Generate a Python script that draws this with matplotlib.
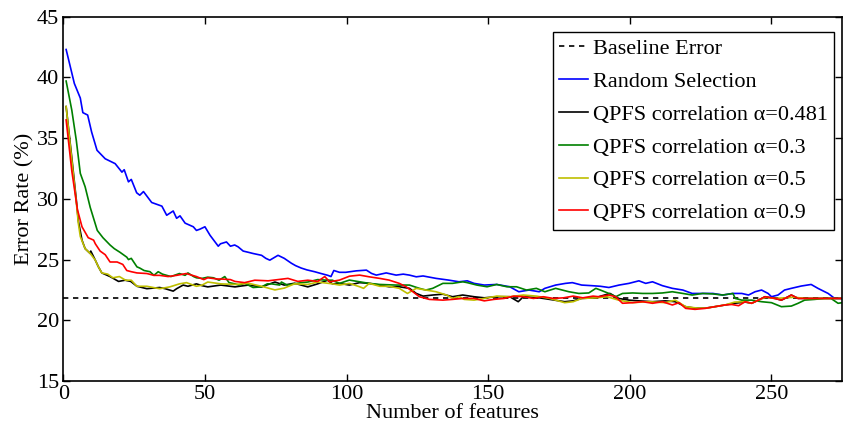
import matplotlib
matplotlib.use("Agg")
import matplotlib.pyplot as plt

plt.rcParams['font.family'] = ['Liberation Serif', 'DejaVu Serif']
plt.rcParams['font.size'] = 16
plt.rcParams['mathtext.fontset'] = 'stix'

# baseline error rate
baseline = 21.8

# Random Selection (blue)
rand_x = [1, 3.9, 6, 6.9, 8.6, 10, 11.9, 14.8, 18.3, 20.7, 21.5, 23, 24, 25.9, 27, 28.3, 31.2, 34.8,
          36.5, 38.8, 40, 41.2, 43, 45.9, 47, 48.2, 50, 51.8, 54.7, 55.5, 57.6, 59, 60.5, 61.7, 63.5,
          65.3, 67, 70, 71.5, 72.9, 75.8, 78, 80.5, 82, 84, 86, 88.7, 91, 93.4, 94.5, 95.5, 97.5,
          99.7, 103.4, 107, 108.8, 110.5, 114, 117.5, 120, 122.2, 124.6, 127, 131.6, 136, 139.7,
          142.6, 145, 148.6, 153, 157.6, 160.8, 164.4, 168, 170, 173.8, 177.3, 179.7, 183, 186.6,
          189.6, 192.6, 196.2, 199.7, 203.2, 205.6, 208, 211.5, 215, 218.7, 222, 225.7, 229.3,
          232.8, 236.4, 239.5, 241.9, 244.2, 246.5, 248.8, 250, 252.3, 254.6, 257, 260.5, 264,
          266.4, 270, 272.3, 275]
rand_y = [42.3, 39.5, 38.3, 37.1, 36.9, 35.5, 34.0, 33.3, 32.9, 32.2, 32.4, 31.4, 31.6, 30.5, 30.3,
          30.6, 29.7, 29.4, 28.65, 29.0, 28.4, 28.6, 28.0, 27.7, 27.4, 27.5, 27.7, 27.0, 26.1, 26.3,
          26.45, 26.1, 26.2, 26.05, 25.7, 25.6, 25.5, 25.35, 25.1, 24.95, 25.35, 25.1, 24.7, 24.5,
          24.3, 24.15, 24.0, 23.85, 23.7, 23.6, 24.1, 23.95, 23.95, 24.07, 24.13, 23.86, 23.72,
          23.9, 23.72, 23.8, 23.72, 23.58, 23.65, 23.45, 23.31, 23.17, 23.25, 23.04, 22.9, 22.95,
          22.76, 22.35, 22.49, 22.35, 22.63, 22.9, 23.04, 23.1, 22.9, 22.85, 22.8, 22.7, 22.9,
          23.04, 23.25, 23.04, 23.17, 22.85, 22.63, 22.49, 22.21, 22.21, 22.21, 22.08, 22.21,
          22.21, 22.08, 22.35, 22.49, 22.21, 21.94, 22.08, 22.49, 22.63, 22.82, 22.95, 22.63,
          22.21, 21.8, 21.8]

# QPFS alpha=0.481 (black)
a481_x = [1, 3, 4.6, 5.3, 6.6, 7.7, 9.5, 9.7, 11.3, 12.4, 13.6, 16.5, 19.5, 21.8, 23.8, 26, 29.5,
          34, 36, 38.8, 40, 42.3, 44, 47, 49, 51, 55.6, 60.6, 65.3, 70, 74.7, 78, 81.6, 86.3, 89.8,
          93.3, 95, 97.5, 101, 104.6, 108, 111.7, 115, 118.6, 122.2, 124.6, 127, 130.4, 134, 137.4,
          141, 145, 148.6, 153, 157.6, 160.6, 162.4, 168, 171.7, 177, 180, 183, 188.3, 189, 193,
          196, 199.7, 203.2, 208, 212.5, 216, 219.7, 223, 226.6, 230, 233.6, 237, 240.7, 243,
          245.4, 247.7, 251.2, 253.5, 255.9, 257, 259.4, 265, 275]
a481_y = [37.6, 33.4, 29.9, 28.2, 26.6, 25.9, 25.5, 25.7, 24.95, 24.4, 23.9, 23.6, 23.2, 23.3, 23.2,
          22.8, 22.6, 22.7, 22.6, 22.4, 22.6, 22.9, 22.8, 23.0, 22.85, 22.75, 22.9, 22.75, 22.9,
          22.75, 23.15, 22.9, 23.05, 22.75, 23.0, 23.3, 23.0, 23.04, 22.9, 23.1, 23.04, 22.9,
          22.76, 22.76, 22.63, 22.21, 21.99, 22.08, 22.15, 21.94, 22.08, 21.94, 21.85, 21.94,
          21.94, 21.53, 21.94, 21.85, 21.72, 21.53, 21.6, 21.8, 21.85, 21.94, 22.21, 21.8, 21.66,
          21.6, 21.53, 21.6, 21.53, 21.12, 21.0, 21.0, 21.12, 21.26, 21.4, 21.5, 21.4, 21.66,
          21.94, 21.8, 21.66, 21.94, 22.08, 21.8, 21.8, 21.8]

# QPFS alpha=0.3 (green)
a03_x = [1, 3, 4.6, 6, 7.7, 9.5, 12, 14, 16.5, 18, 20, 22.4, 23, 24, 26, 27, 28.5, 30.6, 32, 33.5,
         35, 36.5, 38, 41, 43, 44, 46, 47, 49, 51, 53, 55, 57, 58.5, 60.6, 62, 64, 67, 70, 72, 73.5,
         76.4, 77, 79, 81.6, 84, 86.3, 89.8, 93.3, 95, 97.5, 101, 104.6, 108, 111.7, 117.5, 122.2,
         125.7, 128, 130.4, 134, 137.4, 141, 142.6, 146, 149.6, 153, 156.6, 160, 163.5, 167, 170,
         173.8, 178.5, 182, 185.5, 188, 189.6, 192.6, 195, 197.4, 201, 204.5, 208, 211.5, 215,
         218.7, 222, 225.7, 229.3, 232.8, 236.4, 237.2, 239.5, 243, 246.5, 250, 253.5, 257, 259.4,
         261.7, 265.2, 268.7, 271, 273.5, 275]
a03_y = [39.7, 37.3, 34.8, 32.1, 31.0, 29.3, 27.4, 26.8, 26.2, 25.9, 25.6, 25.2, 25.0, 25.1, 24.4,
         24.3, 24.1, 24.0, 23.7, 24.0, 23.8, 23.7, 23.6, 23.85, 23.7, 23.9, 23.6, 23.5, 23.45, 23.55,
         23.5, 23.3, 23.6, 23.1, 23.0, 22.9, 23.05, 22.7, 22.75, 23.0, 23.0, 22.9, 23.15, 22.9, 23.0,
         23.1, 23.15, 23.35, 23.3, 23.3, 23.04, 23.31, 23.17, 23.04, 22.95, 22.9, 22.9, 22.63,
         22.49, 22.63, 23.04, 23.04, 23.17, 23.1, 22.9, 22.76, 22.95, 22.76, 22.76, 22.49, 22.63,
         22.35, 22.63, 22.35, 22.21, 22.25, 22.63, 22.49, 22.21, 21.94, 22.21, 22.25, 22.21, 22.21,
         22.25, 22.35, 22.21, 22.08, 22.21, 22.17, 22.08, 22.21, 21.8, 21.66, 21.66, 21.53, 21.45,
         21.12, 21.17, 21.4, 21.66, 21.72, 21.8, 21.8, 21.4, 21.45]

# QPFS alpha=0.5 (yellow)
a05_x = [1, 3, 4.6, 5.3, 6, 7.7, 9.5, 11.3, 12.4, 13.6, 15.7, 17.5, 19.8, 22, 24, 26, 29.5, 34, 37.6,
         41, 43.5, 47, 49, 51, 55.6, 60.6, 65.3, 70, 74.7, 78, 81.6, 86.3, 89.8, 93.3, 95, 97.5,
         101, 104.6, 106, 108, 111.7, 115, 118.6, 121.5, 124.6, 128, 131.6, 135.3, 137.4, 139.7,
         141.5, 145, 148.6, 153, 157.6, 162.4, 167, 171.7, 177, 180, 183, 188.3, 192, 196, 201,
         206.4, 212.5, 216, 219.7, 224, 227, 230, 233.6, 237, 240.7, 243, 245.4, 248, 251, 255,
         258, 262, 275]
a05_y = [37.6, 33.2, 29.7, 28.0, 26.9, 25.9, 25.5, 24.95, 24.4, 23.9, 23.8, 23.5, 23.6, 23.3, 23.3,
         22.8, 22.8, 22.6, 22.75, 23.0, 23.1, 22.8, 22.9, 23.15, 23.0, 22.95, 23.05, 22.8, 22.5,
         22.65, 23.0, 22.95, 23.15, 23.05, 23.0, 22.9, 23.04, 22.76, 22.63, 23.04, 22.8, 22.8,
         22.63, 22.21, 22.63, 22.49, 22.35, 22.08, 21.8, 21.95, 21.72, 21.66, 21.8, 21.99, 21.94,
         22.08, 21.99, 21.8, 21.45, 21.53, 21.8, 21.85, 21.94, 21.66, 21.45, 21.53, 21.45, 21.66,
         21.12, 21.0, 21.0, 21.12, 21.26, 21.5, 21.53, 21.4, 21.66, 21.9, 21.8, 21.85, 21.9, 21.8,
         21.8]

# QPFS alpha=0.9 (red)
a09_x = [1, 3, 5, 6.6, 8.8, 10.7, 11.3, 13, 14.8, 16.5, 19, 21, 22.4, 24, 26, 29.5, 32, 34, 37, 40,
         43.4, 47, 49.6, 51, 54.3, 55.6, 59, 60.6, 64, 67.6, 72.3, 75.8, 79.3, 82.8, 86.3, 89.8,
         92.3, 94, 97.5, 101, 104.6, 108, 111.7, 115, 118.6, 121, 123.4, 125.7, 129.2, 134, 137.4,
         141, 145, 148.6, 152, 155.6, 159, 162.4, 166, 169.4, 173, 176.6, 180, 183.4, 187, 189,
         192.6, 195, 197.4, 201, 204.5, 208, 211.5, 215, 217.4, 219.7, 223, 226.6, 230, 233.6, 236,
         238.4, 240.7, 243, 245.4, 247.7, 251.2, 253.5, 255.9, 257, 259.4, 275]
a09_y = [36.5, 32.3, 29.1, 27.7, 26.8, 26.6, 26.3, 25.7, 25.4, 24.8, 24.8, 24.6, 24.1, 24.0, 23.9,
         23.85, 23.7, 23.7, 23.6, 23.7, 23.85, 23.6, 23.35, 23.5, 23.4, 23.4, 23.35, 23.2, 23.1,
         23.3, 23.25, 23.35, 23.45, 23.2, 23.3, 23.2, 23.6, 23.17, 23.31, 23.63, 23.72, 23.58,
         23.45, 23.31, 23.04, 22.76, 22.35, 21.94, 21.72, 21.66, 21.72, 21.8, 21.8, 21.6, 21.72,
         21.8, 21.99, 21.94, 21.8, 21.94, 21.8, 21.85, 21.99, 21.85, 21.99, 21.94, 22.08, 21.94,
         21.4, 21.45, 21.53, 21.4, 21.53, 21.26, 21.45, 20.98, 20.9, 20.98, 21.12, 21.26, 21.3,
         21.2, 21.53, 21.4, 21.66, 21.94, 21.8, 21.66, 21.94, 22.08, 21.8, 21.8]

fig = plt.figure(figsize=(8.44, 4.29), dpi=100)
ax = fig.add_axes([63.3 / 844, 1 - 381 / 429, 779 / 844, 364.3 / 429])

ax.plot([0, 275], [baseline, baseline], color='k', lw=1.2, dashes=(3.2, 2.8), label='Baseline Error')
ax.plot(rand_x, rand_y, color='b', lw=1.2, label='Random Selection')
ax.plot(a481_x, a481_y, color='k', lw=1.2, label='QPFS correlation \u03b1=0.481')
ax.plot(a03_x, a03_y, color='g', lw=1.2, label='QPFS correlation \u03b1=0.3')
ax.plot(a05_x, a05_y, color='y', lw=1.2, label='QPFS correlation \u03b1=0.5')
ax.plot(a09_x, a09_y, color='r', lw=1.2, label='QPFS correlation \u03b1=0.9')

ax.set_xlim(0, 275)
ax.set_ylim(15, 45)
ax.set_xticks([0, 50, 100, 150, 200, 250])
ax.set_yticks([15, 20, 25, 30, 35, 40, 45])
ax.tick_params(direction='in', length=5, width=1, top=True, right=True, pad=3)
for s in ax.spines.values():
    s.set_linewidth(1.2)

ax.set_xlabel('Number of features', labelpad=0)
ax.set_ylabel('Error Rate (%)', labelpad=2)

leg = ax.legend(loc='upper right', bbox_to_anchor=(0.9897, 0.958), borderaxespad=0,
                fancybox=False, framealpha=1, edgecolor='k', handlelength=1.3,
                handletextpad=0.2, labelspacing=0.55, borderpad=0.3)
leg.get_frame().set_linewidth(1.0)

fig.savefig('out.png', dpi=100)
